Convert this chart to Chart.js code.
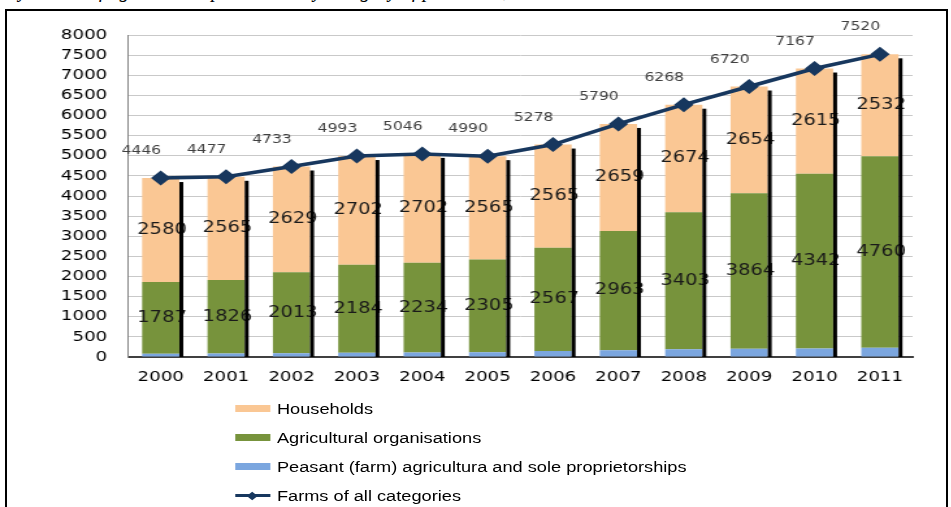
<!DOCTYPE html>
<html>
<head>
<meta charset="utf-8">
<script src="https://cdn.jsdelivr.net/npm/chart.js@4.4.1/dist/chart.umd.min.js"></script>
<style>
  html, body { margin: 0; padding: 0; background: #fff; }
  body { width: 951px; height: 507px; overflow: hidden; position: relative; }
  .caption { position: absolute; left: 4px; top: -21px; font: italic 20px "Liberation Serif", serif; line-height: 22px; white-space: nowrap; color: #000; }
  .frame { position: absolute; left: 5px; top: 9px; width: 939px; height: 520px; border: 2px solid #000; background: #fff; }
  /* the original chart is stretched sideways, so draw narrow and widen */
  .stretch { position: absolute; left: 0; top: 0; width: 731px; height: 507px; transform: scaleX(1.3); transform-origin: 0 0; }
  #chart { position: absolute; left: 0; top: 0; }
  .legend { position: absolute; left: 181px; top: 394px; font: 14px "Liberation Sans", sans-serif; color: #000; }
  .legend .row { height: 29px; display: flex; align-items: center; }
  .legend .swatch { width: 27px; height: 7px; margin-right: 5px; position: relative; }
  .legend .dot { position: absolute; left: 10px; top: 0px; width: 6px; height: 6px; transform: rotate(45deg); }
</style>
</head>
<body>
<div class="caption">Dynamics of agricultural production by category of producers, million roubles</div>
<div class="frame"></div>
<div class="stretch">
  <canvas id="chart" width="731" height="390"></canvas>
  <div class="legend" id="legend"></div>
</div>
<script>
const years = ['2000', '2001', '2002', '2003', '2004', '2005', '2006', '2007', '2008', '2009', '2010', '2011'];
const households = [2580, 2565, 2629, 2702, 2702, 2565, 2565, 2659, 2674, 2654, 2615, 2532];
const agricultural = [1787, 1826, 2013, 2184, 2234, 2305, 2567, 2963, 3403, 3864, 4342, 4760];
const peasant = [79, 86, 91, 107, 110, 120, 146, 168, 191, 202, 210, 228];
const allFarms = [4446, 4477, 4733, 4993, 5046, 4990, 5278, 5790, 6268, 6720, 7167, 7520];
const yTicks = { min: 0, max: 8000, step: 500 };

const navy = '#17375e';

// segment labels + the black bar shadows, drawn before the line goes on top
const barLabels = {
  id: 'barLabels',
  beforeDatasetDraw(chart, args) {
    if (args.meta.type !== 'line') return;
    const ctx = chart.ctx;
    const y0 = chart.scales.y.getPixelForValue(0);
    ctx.save();
    ctx.font = '15px "DejaVu Sans"';
    ctx.fillStyle = '#1a1a1a';
    ctx.textAlign = 'center';
    ctx.textBaseline = 'middle';
    [1, 2].forEach(di => {
      chart.getDatasetMeta(di).data.forEach((bar, i) => {
        ctx.fillText(chart.data.datasets[di].data[i], bar.x + 1, (bar.y + bar.base) / 2);
      });
    });
    ctx.fillStyle = '#000';
    chart.getDatasetMeta(2).data.forEach(bar => {
      ctx.fillRect(bar.x + bar.width / 2, bar.y + 4, 3, y0 - bar.y - 4);
    });
    ctx.restore();
  },
  afterDatasetsDraw(chart) {
    const ctx = chart.ctx;
    ctx.save();
    ctx.font = '12px "DejaVu Sans"';
    ctx.fillStyle = '#404040';
    ctx.textAlign = 'center';
    ctx.textBaseline = 'middle';
    chart.getDatasetMeta(3).data.forEach((pt, i) => {
      ctx.fillText(allFarms[i], pt.x - 15, pt.y - 27);
    });
    ctx.restore();
  }
};

const axisFont = { family: 'DejaVu Sans', size: 14 };

const chart = new Chart(document.getElementById('chart'), {
  data: {
    labels: years,
    datasets: [
      { type: 'bar', label: 'Peasant (farm) agricultura and sole proprietorships', data: peasant, backgroundColor: '#7ba6df', order: 1 },
      { type: 'bar', label: 'Agricultural organisations', data: agricultural, backgroundColor: '#77933c', order: 1 },
      { type: 'bar', label: 'Households', data: households, backgroundColor: '#fac794', order: 1 },
      {
        type: 'line', label: 'Farms of all categories', data: allFarms,
        borderColor: navy, backgroundColor: navy, borderWidth: 3.5,
        pointStyle: 'rectRot', pointRadius: 7.5, pointBorderWidth: 0,
        fill: false, tension: 0, stack: 'total', order: 0
      }
    ]
  },
  options: {
    responsive: false,
    animation: false,
    devicePixelRatio: 1,
    layout: { padding: { top: 35, right: 29, bottom: 0, left: 0 } },
    datasets: { bar: { barPercentage: 0.57, categoryPercentage: 1 } },
    plugins: { legend: { display: false }, tooltip: { enabled: false } },
    scales: {
      x: {
        stacked: true,
        grid: { display: false, drawTicks: false },
        border: { color: '#404040', width: 2 },
        ticks: { font: axisFont, color: '#000', padding: 12 },
        afterFit: s => { s.height = 33; }
      },
      y: {
        stacked: true,
        min: yTicks.min,
        max: yTicks.max,
        ticks: { stepSize: yTicks.step, font: axisFont, color: '#000', padding: 16, callback: v => String(v) },
        grid: { color: '#c9c9c9', drawTicks: false },
        border: { color: '#868686', width: 1 },
        afterFit: s => { s.width = 98.5; }
      }
    }
  },
  plugins: [barLabels]
});

// legend, one entry per row like the original
const legend = document.getElementById('legend');
[2, 1, 0, 3].forEach(di => {
  const ds = chart.data.datasets[di];
  const row = document.createElement('div');
  row.className = 'row';
  const sw = document.createElement('div');
  sw.className = 'swatch';
  if (ds.type === 'line') {
    sw.style.height = '3px';
    sw.style.background = navy;
    sw.innerHTML = '<div class="dot" style="background:' + navy + ';top:-1.5px"></div>';
  } else {
    sw.style.background = ds.backgroundColor;
  }
  row.appendChild(sw);
  row.appendChild(document.createTextNode(ds.label));
  legend.appendChild(row);
});
</script>
</body>
</html>
